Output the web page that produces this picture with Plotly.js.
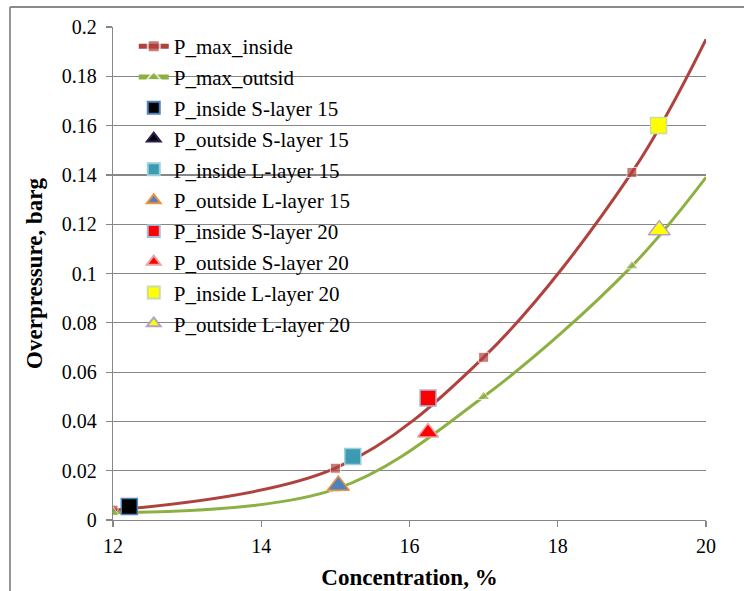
<!DOCTYPE html>
<html>
<head>
<meta charset="utf-8">
<script src="https://cdn.plot.ly/plotly-3.0.1.min.js"></script>
<style>html,body{margin:0;padding:0;background:#fff;}#chart{width:744px;height:591px;}</style>
</head>
<body>
<div id="chart"></div>
<script>
// ---- data ----
const curveX = [12, 15, 17, 19, 20];
const pMaxInside = [0.004, 0.021, 0.066, 0.141, 0.195];
const pMaxOutside = [0.003, 0.0125, 0.050, 0.103, 0.139];

const insideS15X = [12.22], insideS15Y = [0.0055];
const outsideS15X = [12.22], outsideS15Y = [0.005];
const insideL15X = [15.235], insideL15Y = [0.0258];
const outsideL15X = [15.04], outsideL15Y = [0.014];
const insideS20X = [16.25], insideS20Y = [0.0495];
const outsideS20X = [16.25], outsideS20Y = [0.0355];
const insideL20X = [19.36], insideL20Y = [0.160];
const outsideL20X = [19.37], outsideL20Y = [0.1176];

const yTickVals = [0, 0.02, 0.04, 0.06, 0.08, 0.1, 0.12, 0.14, 0.16, 0.18, 0.2];
const yTickText = ['0', '0.02', '0.04', '0.06', '0.08', '0.1', '0.12', '0.14', '0.16', '0.18', '0.2'];
const xTickVals = [12, 14, 16, 18, 20];
const xTickText = ['12', '14', '16', '18', '20'];

const FONT = 'Liberation Serif, Times New Roman, serif';
const GRID = '#878787';

function pts(name, x, y, symbol, fill, border, size, rank) {
  return {
    type: 'scatter', mode: 'markers', name: name, x: x, y: y,
    legendgroup: name, legendrank: rank,
    marker: {symbol: symbol, color: fill, size: size, line: {color: border, width: 1.5}},
    cliponaxis: false
  };
}

const traces = [
  {type: 'scatter', mode: 'lines+markers', name: 'P_max_inside', x: curveX, y: pMaxInside,
   legendgroup: 'a', legendrank: 1,
   line: {color: '#B0423E', width: 3, shape: 'spline', smoothing: 1},
   marker: {symbol: 'square', color: '#B0423E', size: [10, 10, 10, 10, 0]}},
  {type: 'scatter', mode: 'lines+markers', name: 'P_max_outsid', x: curveX, y: pMaxOutside,
   legendgroup: 'b', legendrank: 2,
   line: {color: '#8DB043', width: 3, shape: 'spline', smoothing: 1},
   marker: {symbol: 'triangle-up', color: '#8DB043', size: [11, 11, 11, 11, 0]}},
  pts('P_outside S-layer 15', outsideS15X, outsideS15Y, 'triangle-up', '#000000', '#2B1F4F', 9, 4),
  pts('P_inside S-layer 15', insideS15X, insideS15Y, 'square', '#000000', '#4F81BD', 16, 3),
  pts('P_inside L-layer 15', insideL15X, insideL15Y, 'square', '#3C9BB0', '#9CCEDC', 16, 5),
  pts('P_outside L-layer 15', outsideL15X, outsideL15Y, 'triangle-up', '#4F81BD', '#F0903F', 19, 6),
  pts('P_inside S-layer 20', insideS20X, insideS20Y, 'square', '#FF0000', '#A6B9DA', 16, 7),
  pts('P_outside S-layer 20', outsideS20X, outsideS20Y, 'triangle-up', '#FF0000', '#E8A3A3', 18, 8),
  pts('P_inside L-layer 20', insideL20X, insideL20Y, 'square', '#FFFF00', '#C9DCA5', 16, 9),
  pts('P_outside L-layer 20', outsideL20X, outsideL20Y, 'triangle-up', '#FFFF00', '#B3A2C7', 19, 10)
];

const layout = {
  width: 744, height: 591,
  margin: {l: 113, r: 38, t: 27, b: 71, pad: 0},
  paper_bgcolor: '#ffffff', plot_bgcolor: 'rgba(0,0,0,0)',
  font: {family: FONT, size: 20, color: '#000000'},
  showlegend: true,
  legend: {
    x: 0.035, y: 1.002, xanchor: 'left', yanchor: 'top',
    bgcolor: 'rgba(0,0,0,0)', borderwidth: 0, maxheight: 520,
    font: {family: FONT, size: 21, color: '#000000'},
    traceorder: 'grouped', tracegroupgap: 0.5, itemsizing: 'constant', itemwidth: 30
  },
  xaxis: {
    range: [12, 20], tickvals: xTickVals, ticktext: xTickText,
    showgrid: false, zeroline: false, showline: true, linecolor: GRID, linewidth: 1.2,
    ticks: 'outside', ticklen: 6, tickcolor: GRID, tickwidth: 1.2, ticklabelstandoff: 2,
    tickfont: {family: FONT, size: 20, color: '#000'},
    title: {text: '<b>Concentration, %</b>', font: {family: FONT, size: 23, color: '#000'}, standoff: 12}
  },
  yaxis: {
    range: [0, 0.2], tickvals: yTickVals, ticktext: yTickText,
    showgrid: true, gridcolor: GRID, gridwidth: 1.2, zeroline: false,
    showline: true, linecolor: GRID, linewidth: 1.2,
    ticks: 'outside', ticklen: 6, tickcolor: GRID, tickwidth: 1.2, ticklabelstandoff: 5,
    tickfont: {family: FONT, size: 20, color: '#000'},
    title: {text: '<b>Overpressure, barg</b>', font: {family: FONT, size: 23, color: '#000'}, standoff: 12}
  },
  shapes: [
    {type: 'line', xref: 'paper', yref: 'paper', layer: 'below',
     x0: -0.1737, x1: -0.1737, y0: -0.3, y1: 1.0406, line: {color: '#8A8A8A', width: 1.8}},
    {type: 'line', xref: 'paper', yref: 'paper', layer: 'below',
     x0: -0.1737, x1: 1.2, y0: 1.0406, y1: 1.0406, line: {color: '#8A8A8A', width: 1.8}}
  ]
};

Plotly.newPlot('chart', traces, layout, {displayModeBar: false, staticPlot: true});
</script>
</body>
</html>
